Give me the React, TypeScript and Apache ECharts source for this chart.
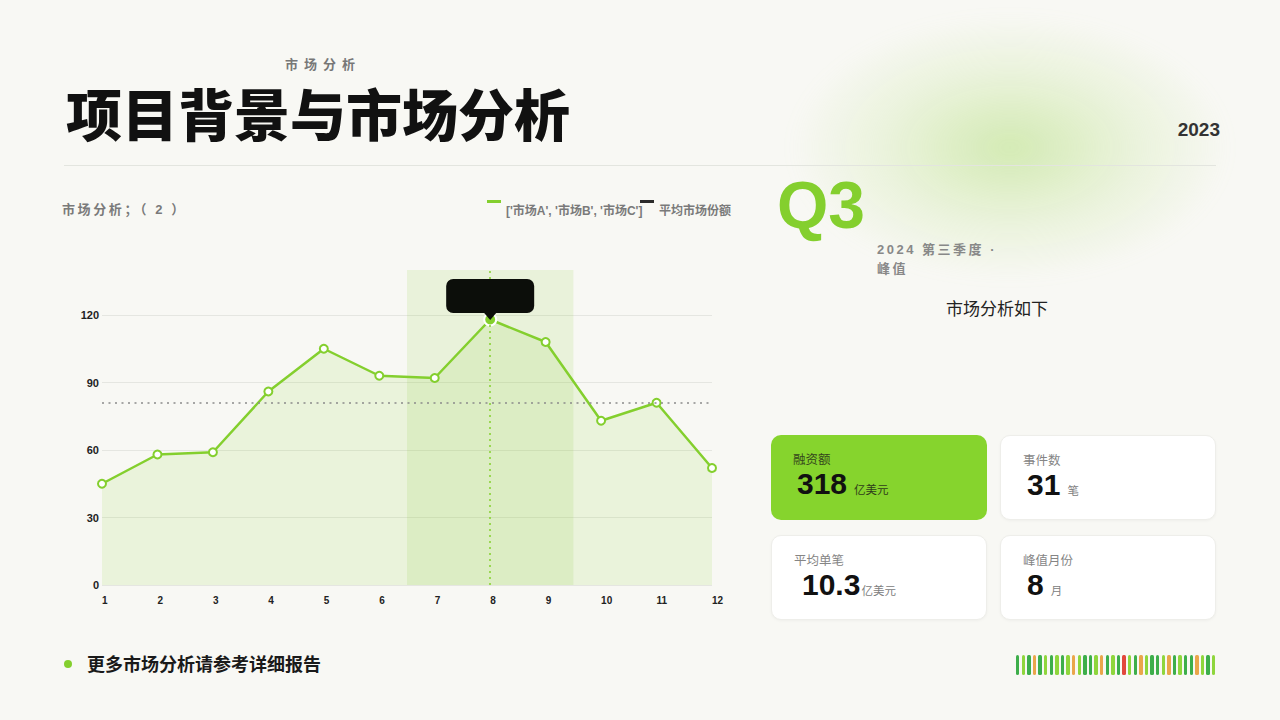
import * as echarts from 'echarts';
import { useEffect, useRef } from 'react';

// 数据
const months = [1, 2, 3, 4, 5, 6, 7, 8, 9, 10, 11, 12];
const shareValues = [45, 58, 59, 86, 105, 93, 92, 118, 108, 73, 81, 52];
const seriesNames = ["['市场A', '市场B', '市场C']", '平均市场份额'];
const peakMonth = 8;
const highlightRange = [6.5, 9.5];

const kpiLabels = ['融资额', '事件数', '平均单笔', '峰值月份'];
const kpiValues = ['318', '31', '10.3', '8'];
const kpiUnits = ['亿美元', '笔', '亿美元', '月'];

// 底部装饰条颜色：d 深绿, l 浅绿, o 橙, r 红
const barcodeCodes = 'dldodldldlolddlodldrldolddlodlddoldl'.split('');

const GREEN = '#84cf2e';
const FONT = "'Liberation Sans', 'Noto Sans CJK SC', sans-serif";
const BARCODE_COLORS: Record<string, string> = {
  d: '#3dae4a',
  l: '#8fd63c',
  o: '#eaa64a',
  r: '#e2473c',
};

// 图例图标：顶部的短横条
const LEGEND_ICON = 'path://M0,0h14v3h-14z M0,22h0.01v0.01h-0.01z';
// 峰值提示框：圆角矩形加向下的小三角
const CALLOUT_PATH =
  'path://M7,0H81A7,7 0 0 1 88,7V27A7,7 0 0 1 81,34H7A7,7 0 0 1 0,27V7A7,7 0 0 1 7,0Z M38,34L44,41L50,34Z';

const getChartOptions = (): echarts.EChartsOption => {
  const peakValue = shareValues[months.indexOf(peakMonth)];
  const legendText = {
    color: '#7a7a7a',
    fontSize: 12,
    fontWeight: 'bold' as const,
  };
  return {
    animation: false,
    textStyle: { fontFamily: FONT },
    legend: [
      {
        data: [{ name: seriesNames[0], itemStyle: { color: GREEN, borderWidth: 0 } }],
        left: 487,
        top: 200,
        padding: 0,
        icon: LEGEND_ICON,
        itemWidth: 14,
        itemHeight: 22,
        selectedMode: false,
        textStyle: { ...legendText, width: 146, overflow: 'truncate', ellipsis: '' },
      },
      {
        data: [{ name: seriesNames[1], itemStyle: { color: '#2b2b2b', borderWidth: 0 } }],
        left: 640,
        top: 200,
        padding: 0,
        icon: LEGEND_ICON,
        itemWidth: 14,
        itemHeight: 22,
        selectedMode: false,
        textStyle: legendText,
      },
    ],
    grid: { left: 102, right: 48, top: 270, bottom: 135 },
    xAxis: {
      type: 'value',
      min: 1,
      max: 12,
      interval: 1,
      axisLine: { show: false },
      axisTick: { show: false },
      splitLine: { show: false },
      axisLabel: {
        align: 'left',
        margin: 10,
        fontSize: 10,
        fontWeight: 'bold',
        color: '#222',
      },
    },
    yAxis: {
      type: 'value',
      min: 0,
      max: 140,
      interval: 30,
      axisLine: { show: false },
      axisTick: { show: false },
      axisLabel: {
        showMaxLabel: false,
        margin: 3,
        fontSize: 11,
        fontWeight: 'bold',
        color: '#222',
      },
      splitLine: { showMaxLine: false, lineStyle: { color: '#e5e6e1' } },
    },
    series: [
      {
        name: seriesNames[0],
        type: 'line',
        data: months.map((m, i) =>
          m === peakMonth
            ? {
                value: [m, shareValues[i]],
                symbol: 'circle',
                symbolSize: 12,
                itemStyle: { color: GREEN, borderColor: '#fff', borderWidth: 2 },
              }
            : [m, shareValues[i]]
        ),
        symbol: 'emptyCircle',
        symbolSize: 8,
        lineStyle: { color: GREEN, width: 2.5 },
        itemStyle: { color: GREEN, borderWidth: 2 },
        areaStyle: { color: 'rgba(132, 204, 46, 0.18)' },
        markArea: {
          silent: true,
          itemStyle: { color: 'rgba(132, 204, 46, 0.13)' },
          data: [[{ xAxis: highlightRange[0] }, { xAxis: highlightRange[1] }]],
        },
        markLine: {
          silent: true,
          symbol: 'none',
          label: { show: false },
          data: [
            {
              type: 'average',
              valueIndex: 1,
              lineStyle: { color: '#8a8a8a', type: [2, 4.5], width: 1.5 },
            },
            {
              xAxis: peakMonth,
              lineStyle: { color: GREEN, type: [2, 4], width: 1.5 },
            },
          ],
        },
        markPoint: {
          silent: true,
          label: { show: false },
          data: [
            {
              coord: [peakMonth, peakValue],
              symbol: CALLOUT_PATH,
              symbolSize: [88, 41],
              symbolOffset: [0, -20],
              itemStyle: { color: '#0c0e0a' },
            },
          ],
        },
      },
      {
        name: seriesNames[1],
        type: 'line',
        data: [],
        itemStyle: { color: '#2b2b2b' },
      },
    ],
  } as echarts.EChartsOption;
};

function ShareChart() {
  const chartRef = useRef<HTMLDivElement>(null);

  useEffect(() => {
    if (!chartRef.current) return;
    const chart = echarts.init(chartRef.current, undefined, { renderer: 'svg' });
    chart.setOption(getChartOptions());
    return () => {
      chart.dispose();
    };
  }, []);

  return (
    <div
      ref={chartRef}
      style={{ position: 'absolute', left: 0, top: 0, width: 760, height: 720 }}
    />
  );
}

function KpiCard({ index }: { index: number }) {
  const highlight = index === 0;
  return (
    <div
      style={{
        position: 'relative',
        borderRadius: 10,
        background: highlight ? '#86d42d' : '#ffffff',
        border: highlight ? 'none' : '1px solid #eeeeea',
        boxShadow: highlight ? 'none' : '0 1px 3px rgba(0,0,0,0.04)',
        boxSizing: 'border-box',
      }}
    >
      <div
        style={{
          position: 'absolute',
          left: 22,
          top: 18,
          fontSize: 12.5,
          lineHeight: '14px',
          color: highlight ? '#34451c' : '#858585',
        }}
      >
        {kpiLabels[index]}
      </div>
      <div
        style={{
          position: 'absolute',
          left: index === 2 ? 30 : 26,
          top: 34,
          whiteSpace: 'nowrap',
          color: '#111',
        }}
      >
        <span style={{ fontSize: 30, fontWeight: 'bold', lineHeight: '30px' }}>
          {kpiValues[index]}
        </span>
        <span
          style={{
            fontSize: 11.5,
            marginLeft: index === 2 ? 1 : 7,
            color: highlight ? '#2f3d1a' : '#808080',
          }}
        >
          {kpiUnits[index]}
        </span>
      </div>
    </div>
  );
}

export default function App() {
  return (
    <div
      style={{
        position: 'fixed',
        left: 0,
        top: 0,
        width: 1280,
        height: 720,
        overflow: 'hidden',
        background: '#f8f8f4',
        fontFamily: FONT,
      }}
    >
      {/* 右上角光晕 */}
      <div
        style={{
          position: 'absolute',
          left: 790,
          top: 15,
          width: 440,
          height: 265,
          background:
            'radial-gradient(ellipse closest-side, rgba(160,215,90,0.42), rgba(185,225,130,0.22) 55%, rgba(248,248,244,0) 100%)',
          filter: 'blur(8px)',
        }}
      />

      <div
        style={{
          position: 'absolute',
          left: 285,
          top: 58,
          fontSize: 13,
          lineHeight: '13px',
          letterSpacing: 6,
          fontWeight: 600,
          color: '#777',
        }}
      >
        市场分析
      </div>
      <div
        style={{
          position: 'absolute',
          left: 66,
          top: 89,
          fontSize: 56,
          lineHeight: '56px',
          fontWeight: 900,
          color: '#111',
          whiteSpace: 'nowrap',
        }}
      >
        项目背景与市场分析
      </div>
      <div
        style={{
          position: 'absolute',
          right: 60,
          top: 120,
          fontSize: 19,
          lineHeight: '19px',
          fontWeight: 'bold',
          color: '#333',
        }}
      >
        2023
      </div>
      <div
        style={{
          position: 'absolute',
          left: 64,
          top: 165,
          width: 1152,
          height: 1,
          background: '#e3e5df',
        }}
      />

      <ShareChart />

      {/* 图表标题 */}
      <div
        style={{
          position: 'absolute',
          left: 62,
          top: 203,
          fontSize: 13,
          lineHeight: '14px',
          fontWeight: 'bold',
          letterSpacing: 2.6,
          color: '#7a7a7a',
          whiteSpace: 'pre',
        }}
      >
        市场分析；（ 2 ）
      </div>

      {/* Q3 区块 */}
      <div
        style={{
          position: 'absolute',
          left: 777,
          top: 172,
          fontSize: 66,
          lineHeight: '66px',
          fontWeight: 'bold',
          color: GREEN,
        }}
      >
        Q3
      </div>
      <div
        style={{
          position: 'absolute',
          left: 877,
          top: 240,
          fontSize: 13,
          lineHeight: '19px',
          fontWeight: 'bold',
          letterSpacing: 2.5,
          color: '#888',
          whiteSpace: 'nowrap',
        }}
      >
        2024 第三季度 ·
        <br />
        峰值
      </div>
      <div
        style={{
          position: 'absolute',
          left: 930,
          width: 134,
          top: 301,
          textAlign: 'center',
          fontSize: 17,
          lineHeight: '17px',
          color: '#222',
        }}
      >
        市场分析如下
      </div>

      {/* 指标卡片 */}
      <div
        style={{
          position: 'absolute',
          left: 771,
          top: 435,
          width: 445,
          height: 185,
          display: 'grid',
          gridTemplateColumns: '216px 216px',
          gridTemplateRows: '85px 85px',
          columnGap: 13,
          rowGap: 15,
        }}
      >
        {kpiLabels.map((_, i) => (
          <KpiCard key={i} index={i} />
        ))}
      </div>

      {/* 底部 */}
      <div
        style={{
          position: 'absolute',
          left: 64,
          top: 660,
          width: 8,
          height: 8,
          borderRadius: 4,
          background: GREEN,
        }}
      />
      <div
        style={{
          position: 'absolute',
          left: 87,
          top: 656,
          fontSize: 18,
          lineHeight: '18px',
          fontWeight: 'bold',
          color: '#1a1a1a',
        }}
      >
        更多市场分析请参考详细报告
      </div>
      {barcodeCodes.map((c, i) => (
        <div
          key={i}
          style={{
            position: 'absolute',
            left: 1016 + i * 5.6,
            top: 655,
            width: 3.4,
            height: 20,
            borderRadius: 1.5,
            background: BARCODE_COLORS[c],
          }}
        />
      ))}
    </div>
  );
}
